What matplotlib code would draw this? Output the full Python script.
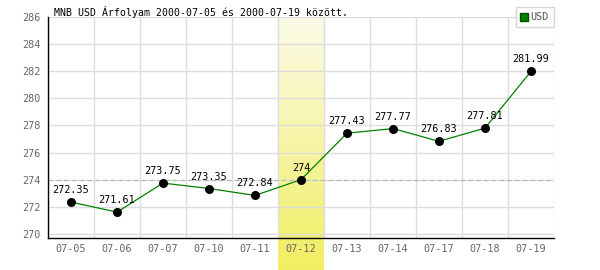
import numpy as np
import matplotlib
matplotlib.use("Agg")
import matplotlib.pyplot as plt
import matplotlib.transforms as mtransforms
from matplotlib.lines import Line2D

# data
dates = ["07-05", "07-06", "07-07", "07-10", "07-11", "07-12",
         "07-13", "07-14", "07-17", "07-18", "07-19"]
rates = [272.35, 271.61, 273.75, 273.35, 272.84, 274.00,
         277.43, 277.77, 276.83, 277.81, 281.99]
highlight = "07-12"
yticks = list(range(270, 287, 2))
title = "MNB USD Árfolyam 2000-07-05 és 2000-07-19 között."

plt.rcParams['font.family'] = ['DejaVu Sans Mono']

fig = plt.figure(figsize=(6, 2.7), dpi=100)
ax = fig.add_axes([48 / 600, 1 - 238 / 270, 506 / 600, 221 / 270])
ax.set_facecolor("none")

x = np.arange(len(dates))

# highlighted column, gradient from pale (top) to yellow (bottom), running below the axis
hi = dates.index(highlight)
grad = np.linspace(0, 1, 100).reshape(-1, 1)
cmap = matplotlib.colors.LinearSegmentedColormap.from_list("hl", ["#fbfbe8", "#f2ee62"])
trans = mtransforms.blended_transform_factory(ax.transData, fig.transFigure)
ax.imshow(grad[::-1], cmap=cmap, aspect="auto", origin="upper",
          extent=(hi - 0.5, hi + 0.5, 1 - 17 / 270, 0),
          transform=trans, clip_on=False, zorder=0)
ax.set_xlim(-0.5, len(dates) - 0.5)
ax.set_ylim(269.7, 286)

# grid
for k in range(len(dates) + 1):
    ax.axvline(k - 0.5, color="#dddddd", lw=1, zorder=1)
for t in yticks:
    ax.axhline(t, color="#dddddd", lw=1, zorder=1)
ax.axhline(rates[hi], color="#a8c0a8", lw=0.8, ls=(0, (4, 3)), zorder=2)

ax.plot(x, rates, color="#008000", lw=0.9, zorder=3)
ax.scatter(x, rates, s=30, color="black", zorder=4)
for xi, v in zip(x, rates):
    ax.annotate(f"{v:g}", (xi, v), xytext=(0, 5), textcoords="offset points",
                ha="center", va="bottom", fontsize=7.3, color="black", zorder=5)

ax.set_xticks(x)
ax.set_xticklabels(dates)
ax.set_yticks(yticks)
ax.tick_params(length=0, labelsize=7.3, labelcolor="#666666")
ax.tick_params(axis="x", pad=4)
ax.tick_params(axis="y", pad=5)
for s in ["top", "right"]:
    ax.spines[s].set_visible(False)
for s in ["left", "bottom"]:
    ax.spines[s].set_color("black")
    ax.spines[s].set_linewidth(1)
    ax.spines[s].set_zorder(6)

fig.text(54 / 600, 1 - 12 / 270, title, fontsize=7.1, color="black", va="center", ha="left")

handle = Line2D([], [], marker="s", ls="none", markersize=5.5,
                markerfacecolor="#008000", markeredgecolor="#005000")
leg = ax.legend([handle], ["USD"], loc="upper right", bbox_to_anchor=(1.0, 1.045),
                fontsize=7.3, frameon=True, fancybox=False, handlelength=0.6,
                handletextpad=0.3, borderpad=0.5, borderaxespad=0)
leg.get_frame().set_edgecolor("#cccccc")
leg.get_frame().set_linewidth(1)
for t in leg.get_texts():
    t.set_color("#555555")

fig.savefig("out.png", dpi=100)
